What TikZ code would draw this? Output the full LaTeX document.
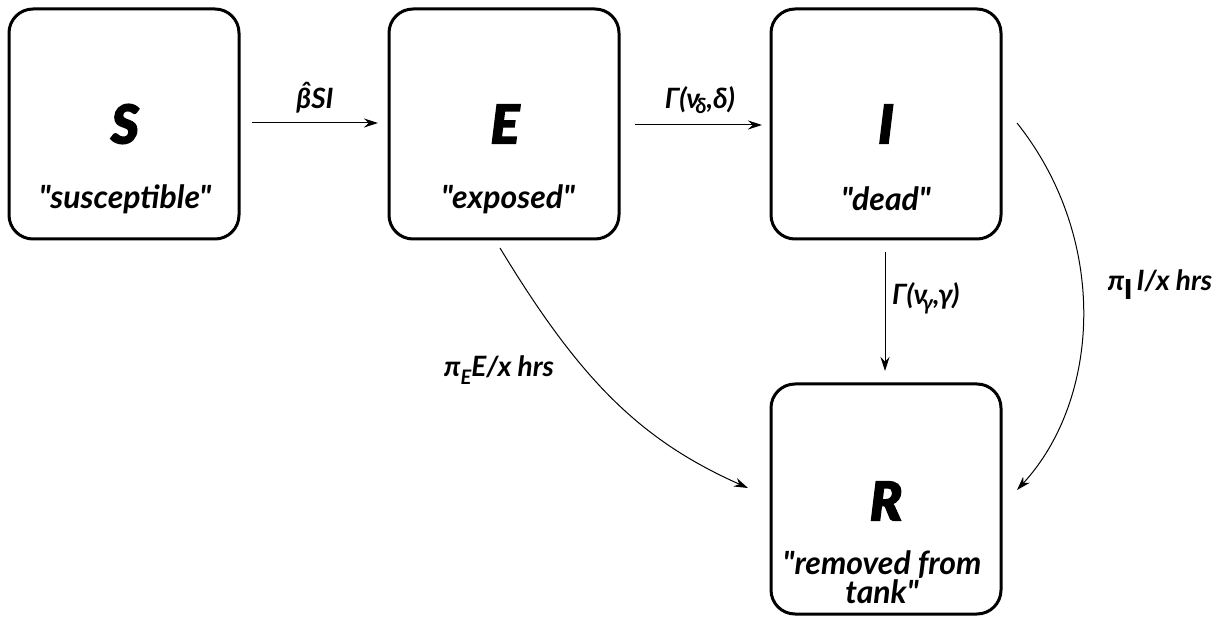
\documentclass[tikz,border=0pt]{standalone}
\usepackage{fontspec}
\newfontfamily\lato{Lato}
\newfontfamily\blackfont[FakeBold=3.5]{Lato Black Italic}
\usetikzlibrary{arrows.meta}
\begin{document}
\begin{tikzpicture}[x=1pt,y=-1pt,
  box/.style={draw,line width=3pt,rounded corners=24pt,minimum width=230pt,minimum height=230pt,inner sep=0pt},
  big/.style={font=\blackfont\fontsize{53}{53}\selectfont},
  sub/.style={font=\lato\bfseries\itshape\fontsize{32}{27}\selectfont,align=center},
  lab/.style={font=\lato\bfseries\itshape\fontsize{28}{28}\selectfont,inner sep=1pt},
  arr/.style={line width=1pt,-{Stealth[length=14pt,width=9pt]}}]
\useasboundingbox (0,0) rectangle (1229,617);
\node[box] (S) at (124,124) {};
\node[box] (E) at (504,124) {};
\node[box] (I) at (886,124) {};
\node[box] (R) at (886,499) {};
\node[big] (Sl) at (125,124) {S};
\node[big] (El) at (505,124) {E};
\node[big] (Il) at (886,124) {I};
\node[big] (Rl) at (886,501) {R};
\node[sub] (St) at (125,199) {"susceptible"};
\node[sub] (Et) at (508,199) {"exposed"};
\node[sub] (It) at (886,199) {"dead"};
\node[sub] (Rt) at (882,577) {"removed from\\ tank"};
\coordinate (a1) at (252,123); \coordinate (a2) at (378,123);
\coordinate (b1) at (635,125); \coordinate (b2) at (762,125);
\coordinate (c1) at (885,252); \coordinate (c2) at (885,371);
\coordinate (d1) at (500,248); \coordinate (d2) at (748,488);
\coordinate (e1) at (1017,123); \coordinate (e2) at (1017,490);
\draw[arr] (a1) -- (a2);
\draw[arr] (b1) -- (b2);
\draw[arr] (c1) -- (c2);
\draw[arr] (d1) .. controls (580,380) and (640,440) .. (d2);
\draw[arr] (e1) .. controls (1110,240) and (1100,400) .. (e2);
\node[lab] (l1) at (315,98) {β̂SI};
\node[lab] (l2) at (700,100) {Γ(ν\kern-0.15em\raisebox{-0.4ex}{\fontsize{21}{21}\selectfont δ},δ)};
\node[lab,anchor=west] (l3) at (891,298) {Γ(ν\kern-0.18em\raisebox{-0.4ex}{\fontsize{21}{21}\selectfont γ},γ)};
\node[lab] (l4) at (499,370) {π\raisebox{-0.6ex}{\fontsize{20}{20}\selectfont E}E/x hrs};
\node[lab] (l5) at (1160,284) {π\raisebox{-0.55ex}{\fontsize{26}{26}\selectfont\blackfont I}\,I/x hrs};
\end{tikzpicture}
\end{document}
